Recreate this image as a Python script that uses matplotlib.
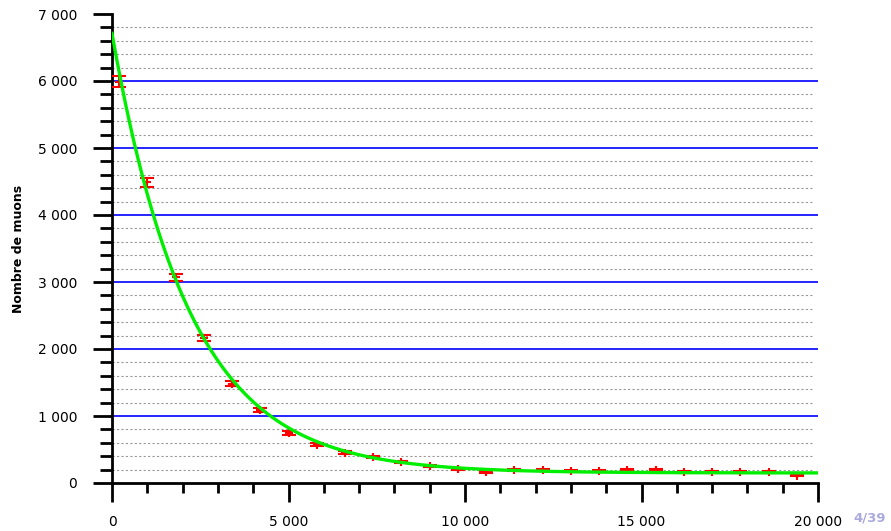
import numpy as np
import matplotlib
matplotlib.use("Agg")
import matplotlib.pyplot as plt
from matplotlib.ticker import MultipleLocator, FuncFormatter

# --- data: muon counts per 800 ns bin ---
bin_centers = [200, 1000, 1800, 2600, 3400, 4200, 5000, 5800, 6600, 7400,
               8200, 9000, 9800, 10600, 11400, 12200, 13000, 13800, 14600,
               15400, 16200, 17000, 17800, 18600, 19400]
counts = [5990, 4490, 3070, 2160, 1480, 1090, 750, 570, 450, 390,
          310, 250, 210, 160, 190, 190, 180, 180, 190,
          190, 160, 160, 160, 160, 110]

# fit parameters (exponential decay + background)
fit_amp = 6560
fit_tau = 2197
fit_bkg = 150

x_ticks_major = 5000
y_ticks_major = 1000


def fmt_thousands(v, pos):
    return f"{int(v):,}".replace(",", " ")


fig = plt.figure(figsize=(8.91, 5.31), dpi=100)
ax = fig.add_axes([112 / 891, 1 - 483 / 531, 706 / 891, 469 / 531])

ax.set_xlim(0, 20000)
ax.set_ylim(0, 7000)

# --- grid ---
for y in np.arange(200, 7000, 200):
    if y % 1000 == 0:
        ax.axhline(y, color="#0000ff", lw=1.2, zorder=1)
    else:
        ax.axhline(y, xmax=0.995, color="#999999", lw=0.8, ls=(0, (2, 2)),
                   zorder=1)

# --- data ---
counts_arr = np.array(counts)
ax.errorbar(bin_centers, counts_arr, yerr=np.sqrt(counts_arr), fmt="+",
            color="red", ms=6, mew=1.5, elinewidth=1.3, capsize=5,
            capthick=1.5, zorder=3)

t = np.linspace(0, 20000, 800)
ax.plot(t, fit_amp * np.exp(-t / fit_tau) + fit_bkg, color="#00ee00",
        lw=2.4, zorder=4)

# --- axes style ---
for s in ("top", "right"):
    ax.spines[s].set_visible(False)
for s in ("left", "bottom"):
    ax.spines[s].set_linewidth(2)

ax.xaxis.set_major_locator(MultipleLocator(x_ticks_major))
ax.xaxis.set_minor_locator(MultipleLocator(1000))
ax.yaxis.set_major_locator(MultipleLocator(y_ticks_major))
ax.yaxis.set_minor_locator(MultipleLocator(200))
ax.xaxis.set_major_formatter(FuncFormatter(fmt_thousands))
ax.yaxis.set_major_formatter(FuncFormatter(fmt_thousands))

ax.tick_params(axis="x", which="major", length=14, width=2, pad=9,
               labelsize=10)
ax.tick_params(axis="x", which="minor", length=7, width=2)
ax.tick_params(axis="y", which="major", length=14, width=2, pad=11,
               labelsize=10)
ax.tick_params(axis="y", which="minor", length=9, width=2)

ax.set_ylabel("Nombre de muons", fontsize=9, fontweight="bold", labelpad=9)

fig.text(870 / 891, 1 - 518 / 531, "4/39", color="#aaaadd", fontsize=9.5,
         fontweight="bold", ha="center", va="center")

fig.savefig("out.png", dpi=100)
